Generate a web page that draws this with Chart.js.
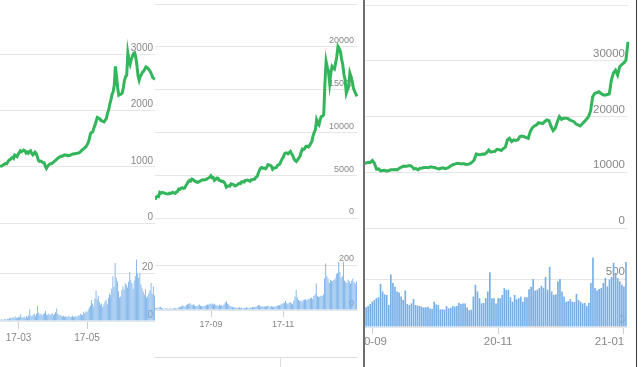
<!DOCTYPE html>
<html>
<head>
<meta charset="utf-8">
<script src="https://cdn.jsdelivr.net/npm/chart.js@4.4.1/dist/chart.umd.min.js"></script>
<style>
  html, body { margin: 0; padding: 0; background: #fff; }
  body { width: 641px; height: 367px; position: relative; overflow: hidden; }
  canvas { position: absolute; }
  #p3 { position: absolute; left: 365px; top: 0; width: 271px; height: 367px; overflow: hidden; }
  .rule { position: absolute; }
</style>
</head>
<body>
<canvas id="p1Line"></canvas>
<canvas id="p1Bar"></canvas>
<canvas id="p2Line"></canvas>
<canvas id="p2Bar"></canvas>
<div id="p3">
  <canvas id="p3Line"></canvas>
  <canvas id="p3Bar"></canvas>
</div>
<div class="rule" style="left:155px;top:357px;width:202px;height:1px;background:#dcdcdc"></div>
<div class="rule" style="left:280px;top:357px;width:1px;height:10px;background:#dcdcdc"></div>
<div class="rule" style="left:363px;top:0;width:2px;height:367px;background:#6e6e6e"></div>
<div class="rule" style="left:636px;top:0;width:1px;height:367px;background:#3a3a3a"></div>
<script>
// panel 1: 17-02-13 .. 17-06-30
const p1Start = '2017-02-13';
const p1Ticks = ['17-03', '17-05'];
const p1Price = [
  1000, 1012, 1020, 1035, 1047, 1060, 1055, 1090, 1120, 1125,
  1150, 1165, 1148, 1207, 1195, 1180, 1222, 1250, 1284, 1268,
  1280, 1296, 1285, 1243, 1262, 1240, 1270, 1284, 1240, 1210,
  1232, 1260, 1235, 1180, 1110, 1095, 1100, 1089, 1075, 1071,
  1010, 970, 1005, 1030, 1047, 1052, 1060, 1077, 1095, 1110,
  1130, 1150, 1165, 1178, 1190, 1185, 1201, 1210, 1205, 1207,
  1195, 1200, 1205, 1215, 1225, 1230, 1228, 1236, 1240, 1245,
  1248, 1265, 1290, 1307, 1320, 1340, 1355, 1390, 1426, 1500,
  1591, 1610, 1621, 1690, 1739, 1810, 1876, 1865, 1857, 1830,
  1815, 1805, 1798, 1830, 1857, 1950, 2005, 2110, 2183, 2280,
  2331, 2450, 2786, 2600, 2400, 2272, 2285, 2290, 2310, 2400,
  2538, 2600, 2627, 3024, 2900, 2823, 2905, 2960, 3012, 3024,
  2950, 2805, 2620, 2538, 2609, 2640, 2686, 2700, 2740, 2775,
  2760, 2745, 2715, 2686, 2640, 2586, 2568, 2560
];
const p1Volume = [
  0.5, 0.7, 0.4, 0.6, 0.8, 0.5, 0.9, 0.7, 1.1, 1.4,
  1.0, 1.7, 1.2, 1.9, 1.5, 1.3, 1.6, 1.8, 2.8, 1.6,
  1.4, 1.9, 1.1, 2.1, 1.6, 2.4, 4.9, 2.2, 1.9, 2.7,
  2.9, 2.1, 3.1, 6.3, 3.4, 2.6, 3.0, 2.4, 2.9, 3.3,
  4.3, 2.7, 2.5, 3.0, 2.6, 2.8, 3.2, 2.4, 2.9, 3.6,
  5.2, 3.0, 2.4, 2.6, 2.2, 1.9, 2.3, 1.8, 2.0, 1.7,
  1.9, 2.1, 1.6, 1.8, 2.2, 1.7, 1.9, 2.0, 1.8, 2.4,
  2.2, 3.0, 2.6, 2.4, 3.9, 3.2, 4.1, 3.6, 4.8, 5.7,
  6.5, 8.8, 7.2, 6.0, 9.4, 12.7, 9.1, 10.5, 8.0, 6.8,
  7.4, 5.8, 6.9, 8.1, 8.8, 7.0, 9.6, 11.6, 10.8, 13.5,
  18.6, 14.2, 24.2, 18.0, 16.5, 12.4, 9.8, 10.2, 12.9, 14.4,
  13.1, 15.7, 15.1, 14.0, 16.3, 20.4, 17.2, 15.8, 13.4, 16.9,
  18.7, 25.6, 19.8, 17.9, 20.0, 15.2, 13.6, 12.3, 11.0, 13.2,
  9.8, 10.2, 11.5, 12.8, 15.8, 11.2, 14.4, 10.6
];

// panel 2: 17-07-16 .. 18-01-02
const p2Start = '2017-07-16';
const p2Ticks = ['17-09', '17-11'];
const p2Price = [
  2140, 2450, 2550, 2500, 2995, 2900, 3000, 2950, 2920, 2850,
  2820, 2800, 2900, 2880, 2920, 3000, 2900, 2880, 3030, 3100,
  3385, 3350, 3500, 3520, 3460, 3500, 3775, 4000, 4250, 4395,
  4300, 4550, 4500, 4350, 4280, 4200, 4160, 4250, 4300, 4395,
  4450, 4430, 4470, 4480, 4600, 4670, 4750, 4940, 4700, 4710,
  4400, 4500, 4670, 4650, 4400, 4380, 4250, 4300, 4200, 4000,
  3600, 3695, 3750, 3720, 4000, 3950, 3900, 3775, 3760, 3850,
  3970, 4050, 4020, 4240, 4230, 4200, 4395, 4420, 4430, 4350,
  4280, 4470, 4480, 4520, 4550, 4780, 4850, 5250, 5600, 5850,
  5910, 5800, 5835, 5750, 5900, 6225, 6200, 6150, 6030, 5700,
  5850, 5835, 5900, 6100, 6225, 6300, 6610, 6900, 7100, 7510,
  7600, 7585, 7500, 7650, 7780, 7500, 7275, 6900, 6700, 6610,
  6800, 7000, 7200, 7700, 8050, 8000, 8100, 8365, 8400, 8300,
  8440, 8700, 8950, 9600, 10000, 10300, 11475, 11100, 10890, 11500,
  11865, 11900, 12060, 15750, 18280, 17600, 17115, 15750, 17000, 17700,
  17500, 17400, 18090, 18870, 20030, 19800, 19450, 18600, 17890, 16800,
  16140, 14590, 15000, 15370, 16920, 16500, 15950, 15170, 14780, 14500,
  14200
];
const p2Volume = [
  8, 10, 7, 12, 14, 9, 8, 6, 7, 9,
  6, 5, 7, 8, 6, 7, 9, 8, 7, 10,
  15, 12, 17, 20, 18, 14, 22, 25, 28, 30,
  24, 22, 26, 20, 18, 16, 22, 24, 19, 17,
  18, 16, 20, 21, 25, 24, 28, 26, 30, 24,
  28, 22, 20, 18, 24, 20, 21, 19, 26, 35,
  38, 28, 24, 18, 16, 14, 12, 10, 11, 9,
  10, 12, 9, 11, 8, 10, 9, 12, 10, 9,
  11, 10, 13, 12, 14, 15, 18, 22, 20, 16,
  18, 14, 16, 15, 18, 20, 16, 14, 18, 15,
  16, 14, 17, 20, 19, 22, 25, 28, 30, 32,
  40, 30, 28, 32, 36, 30, 26, 42, 60, 89,
  55, 45, 40, 42, 38, 44, 46, 48, 42, 50,
  48, 52, 55, 50, 62, 70, 118, 62, 58, 60,
  65, 62, 70, 140, 207, 150, 140, 120, 135, 130,
  128, 133, 140, 160, 165, 215, 170, 145, 150, 215,
  130, 126, 120, 136, 128, 118, 130, 140, 125, 118,
  128
];

// panel 3: 20-08-28 .. 21-01-02
const p3Start = '2020-08-28';
const p3Ticks = ['20-09', '20-11', '21-01'];
const p3Price = [
  11600, 11650, 11800, 11750, 12100, 11600, 10550, 10600, 10250, 10300,
  10350, 10200, 10310, 10430, 10450, 10500, 10420, 10730, 10900, 11100,
  11050, 11140, 11200, 11050, 10610, 10650, 10450, 10730, 10750, 10850,
  10870, 10800, 10970, 10900, 10850, 10700, 10610, 10720, 10790, 10650,
  10730, 10950, 11200, 11400, 11500, 11620, 11550, 11500, 11550, 11400,
  11440, 11550, 11800, 12220, 13290, 13200, 13150, 13290, 13250, 13530,
  14000, 13600, 13700, 13750, 14120, 14050, 13900, 14240, 14500, 15790,
  16090, 15500, 15790, 15700, 15800, 16390, 16500, 16390, 16200, 16090,
  17280, 18000, 18300, 18480, 18890, 18800, 18770, 19100, 19370, 19250,
  18200, 17460, 17880, 19070, 19970, 19500, 19670, 19700, 19670, 19370,
  19200, 19070, 18650, 18500, 18300, 18700, 19070, 19490, 19970, 21000,
  23540, 24140, 24300, 24440, 24140, 23900, 23840, 23950, 24020, 26520,
  27800, 28310, 27420, 28910, 29300, 29620, 30100, 33380
];
const p3Volume = [
  194, 205, 218, 240, 264, 282, 300, 310, 450, 370,
  340, 334, 229, 546, 458, 420, 370, 359, 317, 282,
  380, 240, 229, 246, 292, 229, 222, 218, 210, 204,
  206, 211, 194, 190, 264, 235, 229, 183, 185, 180,
  218, 194, 200, 218, 212, 218, 253, 239, 246, 246,
  204, 176, 180, 317, 440, 370, 300, 246, 250, 300,
  370, 570, 300, 300, 246, 300, 300, 334, 405, 387,
  387, 310, 264, 334, 289, 300, 317, 264, 310, 310,
  394, 420, 500, 380, 387, 405, 429, 410, 521, 387,
  627, 370, 334, 340, 475, 500, 370, 317, 264, 270,
  289, 264, 260, 345, 282, 264, 246, 250, 218, 253,
  458, 722, 405, 380, 395, 405, 458, 510, 422, 493,
  520, 669, 563, 510, 475, 440, 422, 676
];

const green = '#33b55b';
const blue = '#76afe8';
const gridColor = '#e6e6e6';
const textColor = '#878787';
const family = 'Liberation Sans';

function dayLabels(start, n) {
  const t0 = new Date(start + 'T00:00:00Z').getTime();
  const out = [];
  for (let i = 0; i < n; i++) {
    out.push(new Date(t0 + i * 86400000).toISOString().slice(2, 10));
  }
  return out;
}

function place(id, left, top, width, height) {
  const c = document.getElementById(id);
  c.width = width;
  c.height = height;
  c.style.left = left + 'px';
  c.style.top = top + 'px';
  return c;
}

function yScale(o) {
  return {
    position: 'right',
    min: 0,
    max: o.max,
    border: { display: false },
    grid: {
      drawTicks: false,
      color: ctx => (ctx.tick && ctx.tick.value === o.max && o.hideTop) ? 'rgba(0,0,0,0)' : gridColor
    },
    afterFit: s => { s.width = 0; },
    ticks: {
      stepSize: o.step,
      mirror: true,
      padding: o.tpad,
      labelOffset: o.lift,
      color: textColor,
      font: { family: family, size: o.font },
      callback: v => v === o.max ? '' : v
    }
  };
}

// o.left/top/right/bottom describe the plot area in page pixels
function lineChart(id, labels, values, o) {
  const pad = 10;
  const c = place(id, o.left - o.ox, o.top - pad, o.right - o.left + 2, o.bottom - o.top + 2 * pad);
  new Chart(c, {
    type: 'line',
    data: {
      labels: labels,
      datasets: [{ data: values, borderColor: green, borderWidth: 3, pointRadius: 0, tension: 0 }]
    },
    options: {
      responsive: false,
      animation: false,
      layout: { padding: { top: pad, bottom: pad, left: 0, right: 2 } },
      plugins: { legend: { display: false }, tooltip: { enabled: false } },
      scales: {
        x: { display: false },
        y: yScale(o)
      }
    }
  });
}

function barChart(id, labels, values, o) {
  const pad = 10;
  const c = place(id, o.left - o.ox - o.padLeft, o.top - pad,
    o.right - o.left + o.padLeft + o.padRight, o.bottom - o.top + pad + o.axisH);
  new Chart(c, {
    type: 'bar',
    data: {
      labels: labels,
      datasets: [{ data: values, backgroundColor: blue, barPercentage: o.barPct, categoryPercentage: 1 }]
    },
    options: {
      responsive: false,
      animation: false,
      layout: { padding: { top: pad, bottom: 0, left: o.padLeft, right: o.padRight } },
      plugins: { legend: { display: false }, tooltip: { enabled: false } },
      scales: {
        x: {
          offset: true,
          border: { display: false },
          grid: { drawOnChartArea: false, offset: false, tickLength: o.tickLen, tickColor: '#cfcfcf' },
          afterBuildTicks: s => {
            s.ticks = s.ticks.filter(t => labels[t.value].endsWith('-01') && o.ticks.includes(labels[t.value].slice(0, 5)));
          },
          afterFit: s => { s.height = o.axisH; },
          ticks: {
            autoSkip: false,
            maxRotation: 0,
            padding: o.tickPad,
            color: textColor,
            font: { family: family, size: o.font },
            callback: v => {
              const m = labels[v].slice(0, 5);
              return m === o.lastTick ? m + o.shift : m;
            }
          }
        },
        y: yScale(Object.assign({ hideTop: true }, o))
      }
    }
  });
}

const p1Labels = dayLabels(p1Start, p1Price.length);
const p2Labels = dayLabels(p2Start, p2Price.length);
const p3Labels = dayLabels(p3Start, p3Price.length);

lineChart('p1Line', p1Labels, p1Price, { left: 0, right: 155, top: -2, bottom: 223, ox: 0, max: 4000, step: 1000, font: 10, lift: -6, tpad: -2 });
barChart('p1Bar', p1Labels, p1Volume, { left: 0, right: 155, top: 225, bottom: 321, ox: 0, padLeft: 0, padRight: 2,
  max: 40, step: 20, font: 10, lift: -6, tpad: -2, ticks: p1Ticks, tickLen: 8, tickPad: 3, axisH: 30, barPct: 0.75, lastTick: '', shift: '' });

lineChart('p2Line', p2Labels, p2Price, { left: 155, right: 357, top: 4, bottom: 218, ox: 0, max: 25000, step: 5000, font: 9, lift: -6, tpad: -3 });
barChart('p2Bar', p2Labels, p2Volume, { left: 155, right: 357, top: 220, bottom: 310, ox: 0, padLeft: 0, padRight: 2,
  max: 400, step: 200, font: 9, lift: -6, tpad: -3, ticks: p2Ticks, tickLen: 7, tickPad: 2, axisH: 25, barPct: 0.75, lastTick: '', shift: '' });

lineChart('p3Line', p3Labels, p3Price, { left: 364, right: 628, top: 5, bottom: 228, ox: 365, max: 40000, step: 10000, font: 11.5, lift: -7, tpad: -3 });
barChart('p3Bar', p3Labels, p3Volume, { left: 363, right: 627, top: 231, bottom: 327, ox: 365, padLeft: 20, padRight: 30,
  max: 1000, step: 500, font: 11.5, lift: -7, tpad: -2, ticks: p3Ticks, tickLen: 7, tickPad: 1, axisH: 30, barPct: 0.8,
  lastTick: '21-01', shift: '         ' });
</script>
</body>
</html>
